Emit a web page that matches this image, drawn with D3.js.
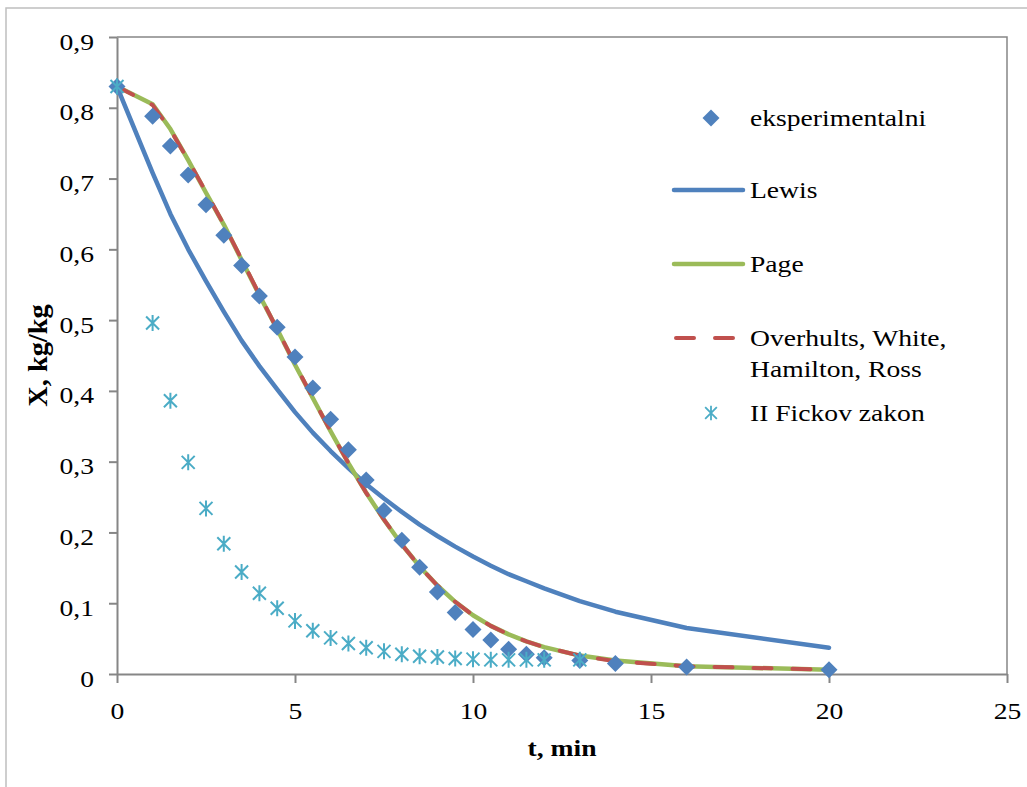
<!DOCTYPE html>
<html>
<head>
<meta charset="utf-8">
<script src="https://cdn.jsdelivr.net/npm/d3@7"></script>
<style>
  body { margin: 0; background: #fff; }
  svg { display: block; }
  text { font-family: "Liberation Serif", "Times New Roman", serif; fill: #000; }
</style>
</head>
<body>
<svg id="chart" width="1027" height="787"></svg>
<script>
// time points, min
var tExp = [0, 1, 1.5, 2, 2.5, 3, 3.5, 4, 4.5, 5, 5.5, 6, 6.5, 7, 7.5, 8, 8.5, 9, 9.5, 10, 10.5, 11, 11.5, 12, 13, 14, 16, 20];
// moisture X, kg/kg
var eksperimentalni = [0.83, 0.788, 0.746, 0.705, 0.663, 0.620, 0.577, 0.534, 0.490, 0.448, 0.404, 0.360, 0.317, 0.274, 0.231, 0.189, 0.151, 0.116, 0.087, 0.063, 0.048, 0.035, 0.028, 0.023, 0.019, 0.015, 0.010, 0.006];
var lewis = [0.83, 0.708, 0.650, 0.600, 0.555, 0.512, 0.471, 0.435, 0.402, 0.370, 0.341, 0.315, 0.291, 0.268, 0.248, 0.229, 0.211, 0.195, 0.180, 0.166, 0.153, 0.141, 0.131, 0.121, 0.103, 0.088, 0.065, 0.037];
var page = [0.83, 0.805, 0.770, 0.726, 0.680, 0.635, 0.585, 0.535, 0.487, 0.437, 0.390, 0.343, 0.298, 0.256, 0.218, 0.183, 0.152, 0.125, 0.102, 0.083, 0.068, 0.056, 0.046, 0.038, 0.026, 0.019, 0.011, 0.006];
var owhr = [0.83, 0.804, 0.769, 0.726, 0.681, 0.635, 0.586, 0.536, 0.487, 0.438, 0.390, 0.343, 0.298, 0.256, 0.218, 0.183, 0.152, 0.125, 0.102, 0.083, 0.068, 0.056, 0.046, 0.038, 0.026, 0.018, 0.011, 0.006];
var tFick = [0, 1, 1.5, 2, 2.5, 3, 3.5, 4, 4.5, 5, 5.5, 6, 6.5, 7, 7.5, 8, 8.5, 9, 9.5, 10, 10.5, 11, 11.5, 12, 13];
var fick = [0.83, 0.496, 0.386, 0.299, 0.234, 0.184, 0.144, 0.114, 0.093, 0.075, 0.061, 0.051, 0.043, 0.037, 0.032, 0.028, 0.025, 0.024, 0.022, 0.021, 0.020, 0.020, 0.020, 0.020, 0.020];

var xTicks = [0, 5, 10, 15, 20, 25];
var yTicks = [0, 0.1, 0.2, 0.3, 0.4, 0.5, 0.6, 0.7, 0.8, 0.9];
var legendNames = ["eksperimentalni", "Lewis", "Page", "Overhults, White,|Hamilton, Ross", "II Fickov zakon"];

var blue = "#4f81bd", green = "#9bbb59", red = "#c0504d", aqua = "#4bacc6", axisCol = "#868686";
var stretch = 1.15; // glyphs in the picture are a bit wide

var svg = d3.select("#chart");
var x = d3.scaleLinear().domain([0, 25]).range([117, 1007]);
var y = d3.scaleLinear().domain([0, 0.9]).range([674, 37]);

// outer frame
svg.append("rect").attr("x", 6).attr("y", 8).attr("width", 1040).attr("height", 800)
	.attr("fill", "none").attr("stroke", "#bfbfbf").attr("stroke-width", 1.5);

// plot frame, top and right
svg.append("path").attr("d", "M" + x(0) + "," + y(0.9) + "H" + x(25) + "V" + y(0))
	.attr("fill", "none").attr("stroke", axisCol).attr("stroke-width", 1.5);

var fmt = function(d) { return d === 0 ? "0" : d3.format(".1f")(d).replace(".", ","); };

var yAxis = svg.append("g").attr("transform", "translate(" + x(0) + ",0)")
	.call(d3.axisLeft(y).tickValues(yTicks).tickFormat(fmt).tickSize(8).tickSizeOuter(0).tickPadding(12));
var xAxis = svg.append("g").attr("transform", "translate(0," + y(0) + ")")
	.call(d3.axisBottom(x).tickValues(xTicks).tickFormat(d3.format("d")).tickSize(9).tickSizeOuter(0));

[yAxis, xAxis].forEach(function(a) {
	a.select(".domain").attr("stroke", axisCol).attr("stroke-width", 2);
	a.selectAll(".tick line").attr("stroke", axisCol).attr("stroke-width", 2);
	a.selectAll(".tick text").attr("font-family", "Liberation Serif").attr("font-size", 24)
		.attr("fill", "#000").attr("transform", "scale(" + stretch + ",1)");
});
yAxis.selectAll(".tick text").attr("dy", "0.5em");
xAxis.selectAll(".tick text").attr("y", 45).attr("dy", 0);

// axis titles
svg.append("text").attr("x", (x(0) + x(25)) / 2 / stretch).attr("y", 756)
	.attr("transform", "scale(" + stretch + ",1)")
	.attr("text-anchor", "middle").attr("font-size", 24).attr("font-weight", "bold").text("t, min");
svg.append("text").attr("transform", "translate(47," + (y(0) + y(0.9)) / 2 + ") rotate(-90) scale(1.18," + stretch + ")")
	.attr("text-anchor", "middle").attr("font-size", 24).attr("font-weight", "bold").text("X, kg/kg");

function series(ts, vs) { return ts.map(function(t, i) { return [t, vs[i]]; }); }
var line = d3.line().x(function(d) { return x(d[0]); }).y(function(d) { return y(d[1]); });

var plot = svg.append("g");
plot.append("path").datum(series(tExp, lewis)).attr("d", line)
	.attr("fill", "none").attr("stroke", blue).attr("stroke-width", 4.5).attr("stroke-linejoin", "round").attr("stroke-linecap", "round");
plot.append("path").datum(series(tExp, page)).attr("d", line)
	.attr("fill", "none").attr("stroke", green).attr("stroke-width", 4.5).attr("stroke-linejoin", "round").attr("stroke-linecap", "round");
plot.append("path").datum(series(tExp, owhr)).attr("d", line)
	.attr("fill", "none").attr("stroke", red).attr("stroke-width", 4).attr("stroke-dasharray", "18,21").attr("stroke-linecap", "round");

var diamond = "M0,-8.5L8.5,0L0,8.5L-8.5,0Z";
var star = "M0,-8V8M-6.5,-6.5L6.5,6.5M-6.5,6.5L6.5,-6.5";

plot.selectAll(".dia").data(series(tExp, eksperimentalni)).enter().append("path")
	.attr("class", "dia").attr("d", diamond).attr("fill", blue)
	.attr("transform", function(d) { return "translate(" + x(d[0]) + "," + y(d[1]) + ")"; });
plot.selectAll(".star").data(series(tFick, fick)).enter().append("path")
	.attr("class", "star").attr("d", star).attr("fill", "none").attr("stroke", aqua).attr("stroke-width", 2)
	.attr("transform", function(d) { return "translate(" + x(d[0]) + "," + y(d[1]) + ")"; });

// legend
var legY = [118, 190, 264, 338, 413];
var lg = svg.append("g");
lg.append("path").attr("d", diamond).attr("fill", blue).attr("transform", "translate(711," + legY[0] + ")");
lg.append("line").attr("x1", 674).attr("x2", 743).attr("y1", legY[1]).attr("y2", legY[1])
	.attr("stroke", blue).attr("stroke-width", 4.5).attr("stroke-linecap", "round");
lg.append("line").attr("x1", 674).attr("x2", 743).attr("y1", legY[2]).attr("y2", legY[2])
	.attr("stroke", green).attr("stroke-width", 4.5).attr("stroke-linecap", "round");
lg.append("line").attr("x1", 676).attr("x2", 737).attr("y1", legY[3]).attr("y2", legY[3])
	.attr("stroke", red).attr("stroke-width", 4).attr("stroke-dasharray", "18,21").attr("stroke-linecap", "round");
lg.append("path").attr("d", star).attr("fill", "none").attr("stroke", aqua).attr("stroke-width", 2)
	.attr("transform", "translate(711," + legY[4] + ") scale(0.9)");

legendNames.forEach(function(name, i) {
	var parts = name.split("|");
	parts.forEach(function(p, j) {
		lg.append("text").attr("x", 750 / stretch).attr("y", legY[i] + 8 + j * 31)
			.attr("transform", "scale(" + stretch + ",1)")
			.attr("font-size", 24).text(p);
	});
});
</script>
</body>
</html>
